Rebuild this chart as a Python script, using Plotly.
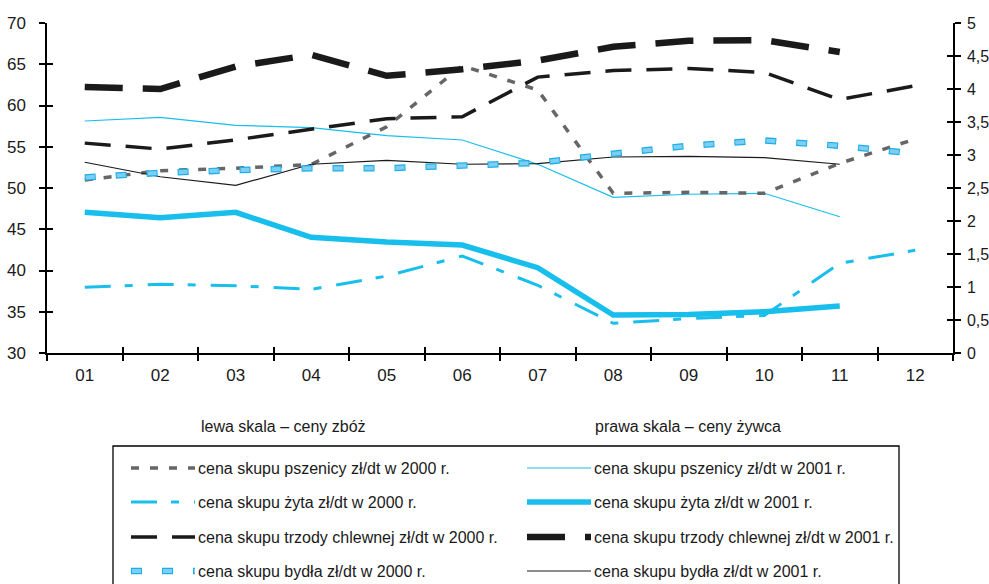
import plotly.graph_objects as go

# Months (x categories)
months = ["01", "02", "03", "04", "05", "06", "07", "08", "09", "10", "11", "12"]

# Grain prices, left scale (zł/dt)
pszenica_2000 = [50.97, 52.10, 52.39, 52.85, 57.43, 64.82, 61.88, 49.36, 49.48, 49.36, 52.99, 55.94]
pszenica_2001 = [58.12, 58.57, 57.60, 57.33, 56.34, 55.82, 52.87, 48.87, 49.24, 49.36, 46.52, None]
zyto_2000 = [37.96, 38.33, 38.16, 37.72, 39.33, 41.76, 38.21, 33.60, 34.18, 34.55, 40.87, 42.46]
zyto_2001 = [47.05, 46.40, 47.05, 44.02, 43.45, 43.09, 40.34, 34.60, 34.67, 35.00, 35.70, None]

# Livestock prices, right scale
trzoda_2000 = [3.18, 3.09, 3.23, 3.39, 3.55, 3.58, 4.18, 4.28, 4.31, 4.25, 3.84, 4.05]
trzoda_2001 = [4.03, 4.00, 4.34, 4.52, 4.20, 4.30, 4.43, 4.64, 4.73, 4.74, 4.56, None]
bydlo_2000 = [2.66, 2.73, 2.77, 2.80, 2.80, 2.84, 2.88, 3.02, 3.14, 3.22, 3.14, 3.02]
bydlo_2001 = [2.89, 2.67, 2.54, 2.86, 2.92, 2.86, 2.87, 2.97, 2.98, 2.96, 2.86, None]

# Axis tick values
left_ticks = [30, 35, 40, 45, 50, 55, 60, 65, 70]
right_ticks = [0, 0.5, 1, 1.5, 2, 2.5, 3, 3.5, 4, 4.5, 5]

CYAN = "#18BEEC"
GRAY = "#666666"
BLACK = "#1A1A1A"
BOX_FILL = "#7FCDF2"
BOX_EDGE = "#1AAFE6"
FONT = "Liberation Sans, Arial"
FS = 16

# Styles: list of (width, colour, dash) layers per series
styles = {
    "psz2000": [(3.5, GRAY, "8px,11px")],
    "psz2001": [(1.2, CYAN, "solid")],
    "zyt2000": [(3, CYAN, "26px,14px,8px,15px")],
    "zyt2001": [(5.5, CYAN, "solid")],
    "trz2000": [(3.5, BLACK, "26px,15px")],
    "trz2001": [(6.5, BLACK, "38px,20px")],
    "byd2000": [(6.5, BOX_EDGE, "11px,20px"), (4.0, BOX_FILL, "0px,1px,9px,21px")],
    "byd2001": [(1.2, BLACK, "solid")],
}

series = [
    ("psz2001", "cena skupu pszenicy zł/dt w 2001 r.", pszenica_2001, "y"),
    ("zyt2001", "cena skupu żyta zł/dt w 2001 r.", zyto_2001, "y"),
    ("byd2001", "cena skupu bydła zł/dt w 2001 r.", bydlo_2001, "y2"),
    ("trz2001", "cena skupu trzody chlewnej zł/dt w 2001 r.", trzoda_2001, "y2"),
    ("trz2000", "cena skupu trzody chlewnej zł/dt w 2000 r.", trzoda_2000, "y2"),
    ("byd2000", "cena skupu bydła zł/dt w 2000 r.", bydlo_2000, "y2"),
    ("psz2000", "cena skupu pszenicy zł/dt w 2000 r.", pszenica_2000, "y"),
    ("zyt2000", "cena skupu żyta zł/dt w 2000 r.", zyto_2000, "y"),
]

fig = go.Figure()
for key, name, vals, yax in series:
    for w, c, d in styles[key]:
        fig.add_trace(go.Scatter(
            x=months, y=vals, name=name, mode="lines", yaxis=yax,
            line=dict(width=w, color=c, dash=d), showlegend=False,
        ))

W, H = 989, 584
ML, MR, MT, MB = 47, 36, 23, 231
PW, PH = W - ML - MR, H - MT - MB


def px_x(px):
    return (px - ML) / PW


def px_y(py):
    return (H - MB - py) / PH


axis_common = dict(showgrid=False, zeroline=False, showline=True, linecolor="black",
                   linewidth=1.5, ticklen=6, tickwidth=1.5, tickcolor="black",
                   automargin=False)
inner_common = dict(showticklabels=False, showgrid=False, zeroline=False, showline=False,
                    automargin=False,
                    ticks="inside", ticklen=6, tickwidth=1.5, tickcolor="black")

fig.update_layout(
    width=W, height=H,
    margin=dict(l=ML, r=MR, t=MT, b=MB, pad=0, autoexpand=False),
    paper_bgcolor="white", plot_bgcolor="white",
    separators=", ",
    showlegend=False,
    font=dict(family=FONT, size=FS, color="#1a1a1a"),
    xaxis=dict(type="category", categoryorder="array", categoryarray=months,
               range=[-0.5, 11.5], tickson="boundaries", ticks="outside",
               ticklabelstandoff=6, tickfont=dict(family=FONT, size=17, color="#1a1a1a"),
               **axis_common),
    xaxis2=dict(overlaying="x", anchor="y", side="bottom", type="linear",
                range=[-0.5, 11.5], tickvals=[i - 0.5 for i in range(13)], **inner_common),
    yaxis=dict(range=[30, 70], tickvals=left_ticks, ticks="outside",
               ticklabelstandoff=10, tickfont=dict(family=FONT, size=17, color="#1a1a1a"),
               **axis_common),
    yaxis2=dict(range=[0, 5], tickvals=right_ticks, overlaying="y", side="right",
                ticks="outside", ticklabelstandoff=3,
                tickfont=dict(family=FONT, size=16, color="#1a1a1a"), **axis_common),
    yaxis3=dict(range=[30, 70], tickvals=left_ticks, overlaying="y", side="left",
                anchor="x", **inner_common),
    yaxis4=dict(range=[0, 5], tickvals=right_ticks, overlaying="y", side="right",
                anchor="x", **inner_common),
)

# Empty traces so the inner-tick axes get drawn
fig.add_trace(go.Scatter(x=[], y=[], xaxis="x2", yaxis="y3", showlegend=False, hoverinfo="skip"))
fig.add_trace(go.Scatter(x=[], y=[], xaxis="x", yaxis="y4", showlegend=False, hoverinfo="skip"))

shapes = []
annotations = []

# Scale captions
annotations.append(dict(text="lewa skala – ceny zbóż", x=px_x(199), y=px_y(426),
                        xref="paper", yref="paper", xanchor="left", yanchor="middle",
                        showarrow=False, font=dict(family=FONT, size=FS)))
annotations.append(dict(text="prawa skala – ceny żywca", x=px_x(593), y=px_y(426),
                        xref="paper", yref="paper", xanchor="left", yanchor="middle",
                        showarrow=False, font=dict(family=FONT, size=FS)))

# Legend frame
shapes.append(dict(type="rect", xref="paper", yref="paper",
                   x0=px_x(113), x1=px_x(899), y0=px_y(610), y1=px_y(446),
                   line=dict(color="black", width=1.3), fillcolor="rgba(0,0,0,0)"))

legend_rows = [
    ("psz2000", "psz2001"),
    ("zyt2000", "zyt2001"),
    ("trz2000", "trz2001"),
    ("byd2000", "byd2001"),
]
names = {k: n for k, n, _, _ in series}
row_y = [468, 502, 537, 571]
cols = [(131, 195, 196), (527, 591, 592)]
for r, keys in enumerate(legend_rows):
    yy = px_y(row_y[r])
    for c, key in enumerate(keys):
        x0, x1, tx = cols[c]
        for w, col, d in styles[key]:
            shapes.append(dict(type="line", xref="paper", yref="paper",
                               x0=px_x(x0), x1=px_x(x1), y0=yy, y1=yy,
                               line=dict(color=col, width=w, dash=d)))
        annotations.append(dict(text=names[key], x=px_x(tx), y=yy, xref="paper", yref="paper",
                                xanchor="left", yanchor="middle", showarrow=False,
                                font=dict(family=FONT, size=FS)))

fig.update_layout(shapes=shapes, annotations=annotations)

fig.write_html("out.html")
